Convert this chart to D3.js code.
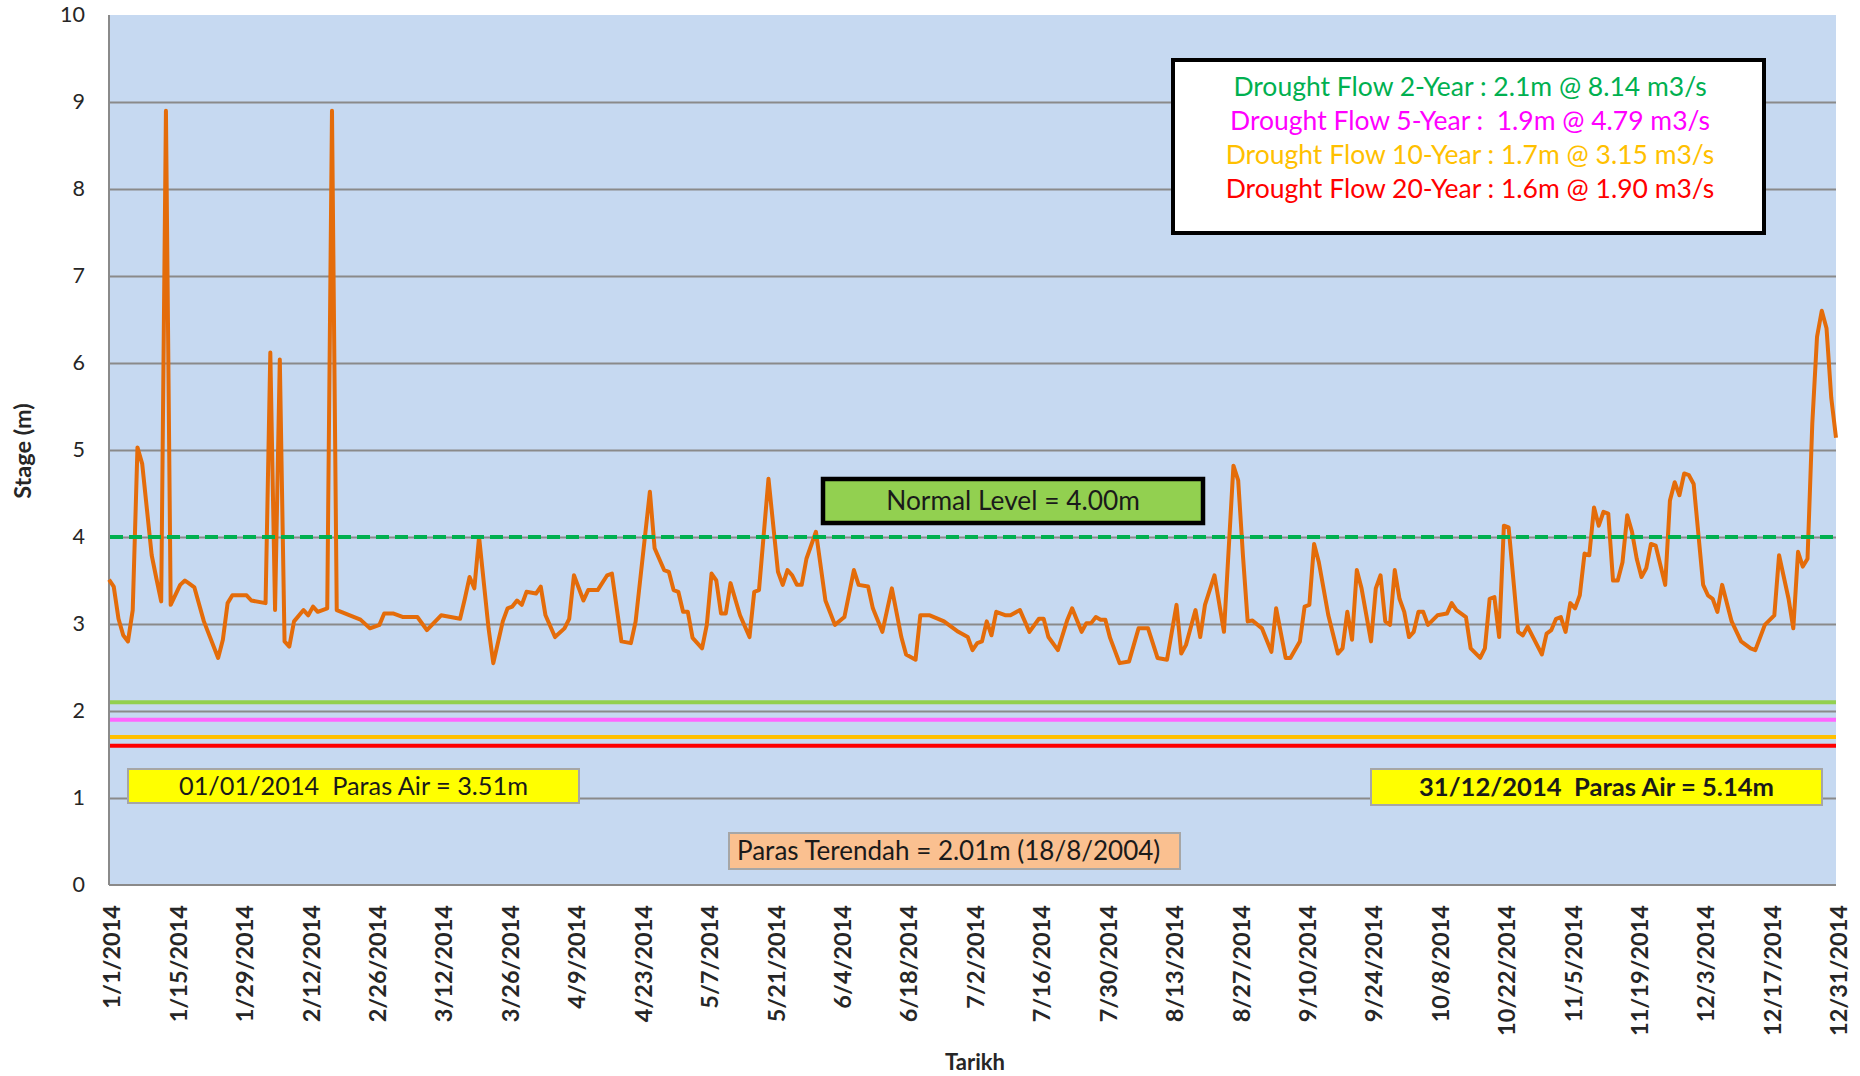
<!DOCTYPE html>
<html>
<head>
<meta charset="utf-8">
<script src="https://cdn.jsdelivr.net/npm/d3@7.9.0/dist/d3.min.js"></script>
<style>
  body { margin: 0; background: #fff; }
  svg { display: block; font-family: Lato, "Open Sans", sans-serif; }
  text { white-space: pre; }
</style>
</head>
<body>
<svg id="chart" width="1860" height="1076"></svg>
<script>
// --- data ---
const startDate = new Date(2014, 0, 1);
const endDate = new Date(2014, 11, 31);

// day offset from 1/1/2014 and stage (m) at that day
const dayIndex = [
  0, 1, 2, 3, 4, 5, 6, 7, 9, 10, 11, 12, 13, 15, 16, 17, 18, 20, 23, 24, 25, 26, 29, 30, 33, 34, 35, 36, 37, 38, 39,
  41, 42, 43, 44, 45, 46, 47, 48, 53, 55, 57, 58, 60, 62, 65, 67, 70, 74, 75, 76, 77, 78, 80, 81, 83, 84, 85, 86, 87, 88,
  90, 91, 92, 94, 96, 97, 98, 100, 101, 103, 105, 106, 108, 110, 111, 114, 115, 117, 118, 119, 120, 121, 122, 123, 125,
  126, 127, 128, 129, 130, 131, 133, 135, 136, 137, 139, 141, 142, 143, 144, 145, 146, 147, 149, 151, 153, 155, 157, 158,
  160, 161, 163, 165, 167, 168, 170, 171, 173, 176, 179, 181, 182, 183, 184, 185, 186, 187, 189, 190, 192, 194, 196, 197,
  198, 200, 202, 203, 205, 206, 207, 208, 209, 210, 211, 213, 215, 217, 219, 221, 223, 225, 226, 227, 229, 230, 231, 233,
  235, 237, 238, 239, 240, 241, 243, 245, 246, 248, 249, 251, 252, 253, 254, 255, 257, 259, 260, 261, 262, 263, 264, 266,
  267, 268, 269, 270, 271, 272, 273, 274, 275, 276, 277, 278, 280, 282, 283, 284, 286, 287, 289, 290, 291, 292, 293, 294,
  295, 297, 298, 299, 302, 303, 304, 305, 306, 307, 308, 309, 310, 311, 312, 313, 314, 315, 316, 317, 318, 319, 320, 321,
  322, 323, 324, 325, 326, 328, 329, 330, 331, 332, 333, 334, 336, 337, 338, 339, 340, 342, 344, 346, 347, 349, 351, 352,
  354, 355, 356, 357, 358, 359, 360, 361, 362, 363, 364
];
const stageValues = [
  3.51, 3.43, 3.06, 2.87, 2.80, 3.16, 5.03, 4.84, 3.79, 3.52, 3.26, 8.90, 3.22, 3.45, 3.50, 3.46, 3.42, 3.03, 2.61, 2.82,
  3.24, 3.33, 3.33, 3.27, 3.24, 6.12, 3.16, 6.04, 2.80, 2.74, 3.03,
  3.16, 3.10, 3.20, 3.14, 3.16, 3.18, 8.90, 3.16, 3.05, 2.95, 2.99, 3.12, 3.12, 3.08, 3.08, 2.93, 3.10, 3.06, 3.29, 3.54,
  3.41, 4.00, 2.95, 2.55, 3.03, 3.18, 3.20, 3.27, 3.22, 3.37,
  3.35, 3.43, 3.10, 2.85, 2.95, 3.06, 3.56, 3.27, 3.39, 3.39, 3.56, 3.58, 2.80, 2.78, 3.03, 4.52, 3.87, 3.62, 3.60, 3.39,
  3.37, 3.14, 3.14, 2.84, 2.72,
  2.99, 3.58, 3.50, 3.12, 3.12, 3.47, 3.10, 2.85, 3.37, 3.39, 4.67, 3.60, 3.45, 3.62, 3.56, 3.45, 3.45, 3.75, 4.06, 3.27,
  2.99, 3.08, 3.62, 3.45,
  3.43, 3.18, 2.91, 3.41, 2.85, 2.65, 2.59, 3.10, 3.10, 3.03, 2.91, 2.85, 2.70, 2.78, 2.80, 3.03, 2.87, 3.14, 3.10, 3.10,
  3.16, 2.91, 3.06, 3.06,
  2.85, 2.70, 3.05, 3.18, 2.91, 3.01, 3.01, 3.08, 3.05, 3.05, 2.84, 2.55, 2.57, 2.95, 2.95, 2.61, 2.59, 3.22, 2.66, 2.76,
  3.16, 2.85, 3.22, 3.56,
  2.91, 4.82, 4.65, 3.79, 3.03, 3.04, 2.95, 2.68, 3.18, 2.61, 2.61, 2.80, 3.20, 3.22, 3.92, 3.71, 3.10, 2.66, 2.72, 3.14,
  2.82, 3.62, 3.41, 2.80,
  3.41, 3.56, 3.03, 2.99, 3.62, 3.29, 3.14, 2.85, 2.91, 3.14, 3.14, 2.99, 3.10, 3.12, 3.24, 3.16, 3.08, 2.72, 2.61, 2.72,
  3.29, 3.31, 2.85, 4.13,
  4.11, 2.91, 2.87, 2.97, 2.65, 2.89, 2.93, 3.06, 3.08, 2.91, 3.24, 3.18, 3.33, 3.81, 3.79, 4.34, 4.13, 4.29, 4.27, 3.50,
  3.50, 3.71, 4.25, 4.06,
  3.75, 3.54, 3.64, 3.92, 3.90, 3.45, 4.42, 4.63, 4.48, 4.73, 4.71, 4.61, 3.45, 3.33, 3.29, 3.14, 3.45, 3.03, 2.80, 2.72,
  2.70, 2.99, 3.10, 3.79,
  3.29, 2.95, 3.83, 3.66, 3.75, 5.30, 6.30, 6.60, 6.40, 5.60, 5.14
];

const yTicks = [0, 1, 2, 3, 4, 5, 6, 7, 8, 9, 10];
const tickStepDays = 14;

const normalLevel = 4.0;
const droughtLevels = [2.1, 1.9, 1.7, 1.6];
const droughtColors = ['#92d050', '#ff66ff', '#ffc000', '#ff0000'];
const droughtLabels = [
  'Drought Flow 2-Year : 2.1m @ 8.14 m3/s',
  'Drought Flow 5-Year :  1.9m @ 4.79 m3/s',
  'Drought Flow 10-Year : 1.7m @ 3.15 m3/s',
  'Drought Flow 20-Year : 1.6m @ 1.90 m3/s'
];
const droughtTextColors = ['#00b050', '#ff00ff', '#ffc000', '#ff0000'];

// --- layout ---
const plot = { left: 109, right: 1836, top: 15, bottom: 885 };
const svg = d3.select('#chart');

const x = d3.scaleTime().domain([startDate, endDate]).range([plot.left, plot.right]);
const y = d3.scaleLinear().domain([0, 10]).range([plot.bottom, plot.top]);

const series = dayIndex.map((d, i) => ({ date: d3.timeDay.offset(startDate, d), value: stageValues[i] }));

// plot background
svg.append('rect')
  .attr('x', plot.left).attr('y', plot.top)
  .attr('width', plot.right - plot.left).attr('height', plot.bottom - plot.top)
  .attr('fill', '#c6d9f1');

// horizontal gridlines
let grid = svg.append('g')
  .attr('transform', `translate(${plot.left},0)`)
  .call(d3.axisLeft(y).tickValues(yTicks.slice(1, -1)).tickSize(-(plot.right - plot.left)).tickFormat(''));
grid.select('.domain').remove();
grid.selectAll('line').attr('stroke', '#8a8a8a').attr('stroke-width', 2);

// axis lines
svg.append('line')
  .attr('x1', plot.left).attr('x2', plot.left).attr('y1', plot.top).attr('y2', plot.bottom)
  .attr('stroke', '#8a8a8a').attr('stroke-width', 2);
svg.append('line')
  .attr('x1', plot.left).attr('x2', plot.right).attr('y1', plot.bottom).attr('y2', plot.bottom)
  .attr('stroke', '#8a8a8a').attr('stroke-width', 2);

// y tick labels
let yAxis = svg.append('g')
  .attr('transform', `translate(${plot.left},0)`)
  .call(d3.axisLeft(y).tickValues(yTicks).tickSize(0).tickPadding(24));
yAxis.select('.domain').remove();
yAxis.selectAll('text')
  .attr('font-family', 'Lato, sans-serif')
  .attr('font-size', 21.5)
  .attr('fill', '#262626');

// x tick labels (every 14 days, rotated)
const xTicks = d3.range(0, 365, tickStepDays).map(d => d3.timeDay.offset(startDate, d));
let xAxis = svg.append('g')
  .attr('transform', `translate(0,${plot.bottom})`)
  .call(d3.axisBottom(x).tickValues(xTicks).tickSize(0).tickFormat(d3.timeFormat('%-m/%-d/%Y')));
xAxis.select('.domain').remove();
xAxis.selectAll('text')
  .attr('transform', 'rotate(-90)')
  .attr('x', -20)
  .attr('y', 0)
  .attr('dy', '0.46em')
  .attr('text-anchor', 'end')
  .attr('font-family', 'Lato, sans-serif')
  .attr('font-weight', 'bold')
  .attr('font-size', 23.5)
  .attr('fill', '#262626');

// drought reference lines
svg.append('g').selectAll('line')
  .data(droughtLevels)
  .join('line')
  .attr('x1', plot.left + 1).attr('x2', plot.right)
  .attr('y1', d => y(d)).attr('y2', d => y(d))
  .attr('stroke', (_, i) => droughtColors[i])
  .attr('stroke-width', 4);

// stage line
svg.append('path')
  .datum(series)
  .attr('fill', 'none')
  .attr('stroke', '#e46c0a')
  .attr('stroke-width', 4)
  .attr('stroke-linejoin', 'round')
  .attr('d', d3.line().x(d => x(d.date)).y(d => y(d.value)));

// normal level dashed line
svg.append('line')
  .attr('x1', plot.left + 1).attr('x2', plot.right)
  .attr('y1', y(normalLevel)).attr('y2', y(normalLevel))
  .attr('stroke', '#00b050')
  .attr('stroke-width', 4)
  .attr('stroke-dasharray', '13,6');

// --- annotation boxes ---
function labelBox(box, label, opts) {
  let g = svg.append('g');
  g.append('rect')
    .attr('x', box.x).attr('y', box.y).attr('width', box.w).attr('height', box.h)
    .attr('fill', opts.fill).attr('stroke', opts.stroke).attr('stroke-width', opts.strokeWidth);
  g.append('text')
    .attr('x', opts.anchor === 'start' ? box.x + opts.pad : box.x + box.w / 2)
    .attr('y', box.y + box.h / 2)
    .attr('dy', '0.36em')
    .attr('text-anchor', opts.anchor || 'middle')
    .attr('font-size', opts.size)
    .attr('font-weight', opts.weight || 'normal')
    .attr('fill', '#1a1a1a')
    .text(label);
}

// legend of drought flows
let legend = svg.append('g');
legend.append('rect')
  .attr('x', 1173).attr('y', 60).attr('width', 591).attr('height', 173)
  .attr('fill', '#fff').attr('stroke', '#000').attr('stroke-width', 4);
legend.selectAll('text')
  .data(droughtLabels)
  .join('text')
  .attr('x', 1470)
  .attr('y', (_, i) => 86 + i * 34.3)
  .attr('dy', '0.36em')
  .attr('text-anchor', 'middle')
  .attr('font-size', 26.5)
  .attr('fill', (_, i) => droughtTextColors[i])
  .text(d => d);

labelBox({ x: 823, y: 479, w: 380, h: 44 }, `Normal Level = ${normalLevel.toFixed(2)}m`,
  { fill: '#92d050', stroke: '#000', strokeWidth: 4.5, size: 26.3 });
labelBox({ x: 128, y: 769, w: 451, h: 34 }, `01/01/2014  Paras Air = ${stageValues[0].toFixed(2)}m`,
  { fill: '#ffff00', stroke: '#a6a6a6', strokeWidth: 2, size: 25.3 });
labelBox({ x: 1371, y: 769, w: 451, h: 36 }, `31/12/2014  Paras Air = ${stageValues[stageValues.length - 1].toFixed(2)}m`,
  { fill: '#ffff00', stroke: '#a6a6a6', strokeWidth: 2, size: 25.6, weight: 'bold' });
labelBox({ x: 729, y: 833, w: 451, h: 36 }, 'Paras Terendah = 2.01m (18/8/2004)',
  { fill: '#fac090', stroke: '#a6a6a6', strokeWidth: 2, size: 26, anchor: 'start', pad: 8 });

// axis titles
svg.append('text')
  .attr('transform', 'translate(24,451) rotate(-90)')
  .attr('dy', '0.3em')
  .attr('text-anchor', 'middle')
  .attr('font-size', 23.5)
  .attr('font-weight', 'bold')
  .attr('fill', '#262626')
  .text('Stage (m)');

svg.append('text')
  .attr('x', 975).attr('y', 1062)
  .attr('dy', '0.36em')
  .attr('text-anchor', 'middle')
  .attr('font-size', 22)
  .attr('font-weight', 'bold')
  .attr('fill', '#262626')
  .text('Tarikh');
</script>
</body>
</html>
